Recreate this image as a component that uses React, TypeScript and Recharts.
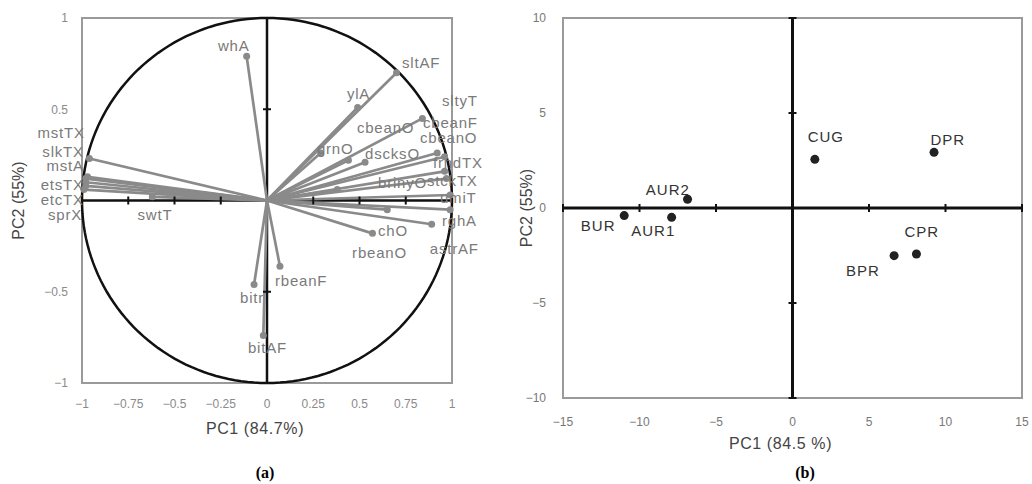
import React from "react"
import {
  Label,
  ReferenceArea,
  ReferenceLine,
  Scatter,
  ScatterChart,
  XAxis,
  YAxis
} from "recharts"

// (a) loading vectors
const loadings = [
  { name: "whA", x: -0.11, y: 0.79 },
  { name: "sltAF", x: 0.7, y: 0.7 },
  { name: "ylA", x: 0.49, y: 0.51 },
  { name: "grnO", x: 0.29, y: 0.26 },
  { name: "cbeanO", x: 0.44, y: 0.22 },
  { name: "dscksO", x: 0.53, y: 0.21 },
  { name: "cbeanF", x: 0.84, y: 0.45 },
  { name: "cbeanO2", x: 0.92, y: 0.26 },
  { name: "frndTX", x: 0.96, y: 0.24 },
  { name: "stckTX", x: 0.96, y: 0.16 },
  { name: "sltyT", x: 0.97, y: 0.12 },
  { name: "brinyO", x: 0.38, y: 0.06 },
  { name: "umiT", x: 0.99, y: 0.03 },
  { name: "astrAF", x: 0.99, y: -0.05 },
  { name: "rbeanO", x: 0.65, y: -0.05 },
  { name: "rghA", x: 0.89, y: -0.13 },
  { name: "chO", x: 0.57, y: -0.18 },
  { name: "rbeanF", x: 0.07, y: -0.36 },
  { name: "bitr", x: -0.07, y: -0.46 },
  { name: "bitAF", x: -0.02, y: -0.74 },
  { name: "swtT", x: -0.62, y: 0.02 },
  { name: "mstTX", x: -0.96, y: 0.23 },
  { name: "slkTX", x: -0.97, y: 0.13 },
  { name: "mstA", x: -0.98, y: 0.12 },
  { name: "etsTX", x: -0.98, y: 0.1 },
  { name: "etcTX", x: -0.98, y: 0.08 },
  { name: "sprX", x: -0.99, y: 0.06 }
]

// where each variable name sits on panel (a)
const loadingLabels = [
  { name: "whA", x: -0.265, y: 0.85 },
  { name: "sltAF", x: 0.73, y: 0.756 },
  { name: "ylA", x: 0.432, y: 0.586 },
  { name: "sltyT", x: 0.946, y: 0.548 },
  { name: "cbeanO", x: 0.486, y: 0.4 },
  { name: "cbeanF", x: 0.843, y: 0.43 },
  { name: "cbeanO", x: 0.827, y: 0.347 },
  { name: "grnO", x: 0.27, y: 0.285 },
  { name: "dscksO", x: 0.53, y: 0.258 },
  { name: "frndTX", x: 0.897, y: 0.208 },
  { name: "brinyO", x: 0.6, y: 0.1 },
  { name: "stckTX", x: 0.865, y: 0.11 },
  { name: "umiT", x: 0.935, y: 0.017 },
  { name: "rghA", x: 0.946, y: -0.11 },
  { name: "chO", x: 0.6, y: -0.164 },
  { name: "rbeanO", x: 0.46, y: -0.285 },
  { name: "astrAF", x: 0.88, y: -0.265 },
  { name: "rbeanF", x: 0.043, y: -0.44 },
  { name: "bitr", x: -0.146, y: -0.53 },
  { name: "bitAF", x: -0.103, y: -0.805 },
  { name: "swtT", x: -0.7, y: -0.077 },
  { name: "mstTX", x: -0.985, y: 0.37 },
  { name: "slkTX", x: -0.99, y: 0.27 },
  { name: "mstA", x: -0.99, y: 0.19 },
  { name: "etsTX", x: -0.99, y: 0.09 },
  { name: "etcTX", x: -0.99, y: 0.005 },
  { name: "sprX", x: -1, y: -0.077 }
]

const aTicksX = [-1, -0.75, -0.5, -0.25, 0, 0.25, 0.5, 0.75, 1]
const aTicksY = [-1, -0.5, 0.5, 1]
const aMarksX = [-0.75, -0.5, -0.25, 0.25, 0.5, 0.75]
const aMarksY = [-0.5, 0.5]

// (b) sample scores
const scores = [
  { name: "AUR2", x: -6.86, y: 0.46 },
  { name: "BUR", x: -11.0, y: -0.4 },
  { name: "AUR1", x: -7.9, y: -0.49 },
  { name: "CUG", x: 1.46, y: 2.56 },
  { name: "DPR", x: 9.25, y: 2.93 },
  { name: "BPR", x: 6.64, y: -2.51 },
  { name: "CPR", x: 8.1, y: -2.42 }
]

const scoreLabels = [
  { name: "AUR2", x: -8.15, y: 1.0 },
  { name: "BUR", x: -12.7, y: -0.9 },
  { name: "AUR1", x: -9.1, y: -1.16 },
  { name: "CUG", x: 2.18, y: 3.74 },
  { name: "DPR", x: 10.15, y: 3.63 },
  { name: "CPR", x: 8.45, y: -1.26 },
  { name: "BPR", x: 4.6, y: -3.3 }
]

const bTicksX = [-15, -10, -5, 0, 5, 10, 15]
const bTicksY = [-10, -5, 0, 5, 10]
const bMarksX = [-15, -10, -5, 5, 10, 15]
const bMarksY = [-10, -5, 5, 10]

// unit circle for the correlation plot
const unitCircle = Array.from({ length: 181 }, (_, i) => {
  const t = (i / 180) * 2 * Math.PI
  return { x: Math.cos(t), y: Math.sin(t) }
})

const FONT = "'Liberation Sans', Arial, sans-serif"
const GREY = "#8a8a8a"

const minus = (v: number) => String(v).replace("-", "\u2212")

const hMark = (props: any) => (
  <line x1={props.cx} y1={props.cy - 4} x2={props.cx} y2={props.cy + 4} stroke="#111" strokeWidth={2} />
)
const vMark = (props: any) => (
  <line x1={props.cx - 4} y1={props.cy} x2={props.cx + 4} y2={props.cy} stroke="#111" strokeWidth={2} />
)
const noDot = () => <g />

const xTitle = (text: string, below: number) => (props: any) => {
  const vb = props.viewBox
  return (
    <text
      x={vb.x + vb.width / 2 - 12}
      y={vb.y + below}
      textAnchor="middle"
      dominantBaseline="central"
      fontFamily={FONT}
      fontSize={16}
      letterSpacing={0.6}
      fill="#444"
    >
      {text}
    </text>
  )
}

const yTitle = (text: string, at: number) => (props: any) => {
  const vb = props.viewBox
  const x = vb.x + at
  const y = vb.y + vb.height / 2
  return (
    <text
      x={x}
      y={y}
      transform={`rotate(-90, ${x}, ${y})`}
      textAnchor="middle"
      dominantBaseline="central"
      fontFamily={FONT}
      fontSize={16}
      fill="#444"
    >
      {text}
    </text>
  )
}

function LoadingPlot() {
  const tick = { fill: "#8a8a8a", fontSize: 12, fontFamily: FONT }
  return (
    <ScatterChart width={490} height={440} margin={{ top: 18, right: 38, bottom: 0, left: 0 }}>
      <XAxis
        type="number"
        dataKey="x"
        domain={[-1, 1]}
        ticks={aTicksX}
        tickFormatter={minus}
        axisLine={false}
        tickLine={false}
        tickSize={6}
        tickMargin={10}
        height={57}
        tick={tick}
      >
        <Label content={xTitle("PC1 (84.7%)", 45)} />
      </XAxis>
      <YAxis
        type="number"
        dataKey="y"
        domain={[-1, 1]}
        ticks={aTicksY}
        tickFormatter={minus}
        axisLine={false}
        tickLine={false}
        tickSize={6}
        tickMargin={8}
        width={82}
        tick={tick}
      >
        <Label content={yTitle("PC2 (55%)", 18)} />
      </YAxis>
      <ReferenceArea x1={-1} x2={1} y1={-1} y2={1} fill="none" stroke="#9a9a9a" strokeWidth={2} />
      <ReferenceLine x={0} stroke="#111" strokeWidth={2.5} />
      <ReferenceLine y={0} stroke="#111" strokeWidth={2.5} />
      <Scatter data={unitCircle} line={{ stroke: "#111", strokeWidth: 2.5 }} shape={noDot} isAnimationActive={false} />
      <Scatter data={aMarksX.map((x) => ({ x, y: 0 }))} shape={hMark} isAnimationActive={false} />
      <Scatter data={aMarksY.map((y) => ({ x: 0, y }))} shape={vMark} isAnimationActive={false} />
      {loadings.map((d) => (
        <ReferenceLine
          key={d.name}
          segment={[{ x: 0, y: 0 }, { x: d.x, y: d.y }]}
          stroke={GREY}
          strokeWidth={2.7}
        />
      ))}
      <Scatter
        data={loadings}
        shape={(p: any) => <circle cx={p.cx} cy={p.cy} r={3.5} fill={GREY} />}
        isAnimationActive={false}
      />
      <Scatter
        data={loadingLabels}
        shape={(p: any) => (
          <text
            x={p.cx}
            y={p.cy}
            textAnchor={p.payload.x < -0.9 ? "end" : "start"}
            dominantBaseline="central"
            fontFamily={FONT}
            fontSize={15}
            letterSpacing={0.8}
            fill="#7a7a7a"
          >
            {p.payload.name}
          </text>
        )}
        isAnimationActive={false}
      />
    </ScatterChart>
  )
}

function ScorePlot() {
  const tick = { fill: "#777", fontSize: 12, fontFamily: FONT }
  return (
    <ScatterChart width={542} height={460} margin={{ top: 18, right: 10, bottom: 0, left: 0 }}>
      <XAxis
        type="number"
        dataKey="x"
        domain={[-15, 15]}
        ticks={bTicksX}
        tickFormatter={minus}
        axisLine={false}
        tickLine={false}
        tickSize={6}
        tickMargin={13}
        height={62}
        tick={tick}
      >
        <Label content={xTitle("PC1 (84.5 %)", 45)} />
      </XAxis>
      <YAxis
        type="number"
        dataKey="y"
        domain={[-10, 10]}
        ticks={bTicksY}
        tickFormatter={minus}
        axisLine={false}
        tickLine={false}
        tickSize={6}
        tickMargin={11}
        width={73}
        tick={tick}
      >
        <Label content={yTitle("PC2 (55%)", 36)} />
      </YAxis>
      <ReferenceArea x1={-15} x2={15} y1={-10} y2={10} fill="none" stroke="#9a9a9a" strokeWidth={2} />
      <ReferenceLine x={0} stroke="#111" strokeWidth={3} />
      <ReferenceLine y={0} stroke="#111" strokeWidth={3} />
      <Scatter data={bMarksX.map((x) => ({ x, y: 0 }))} shape={hMark} isAnimationActive={false} />
      <Scatter data={bMarksY.map((y) => ({ x: 0, y }))} shape={vMark} isAnimationActive={false} />
      <Scatter
        data={scores}
        shape={(p: any) => <circle cx={p.cx} cy={p.cy} r={4.5} fill="#222" />}
        isAnimationActive={false}
      />
      <Scatter
        data={scoreLabels}
        shape={(p: any) => (
          <text
            x={p.cx}
            y={p.cy}
            textAnchor="middle"
            dominantBaseline="central"
            fontFamily={FONT}
            fontSize={15}
            letterSpacing={1}
            fill="#333"
          >
            {p.payload.name}
          </text>
        )}
        isAnimationActive={false}
      />
    </ScatterChart>
  )
}

const caption: React.CSSProperties = {
  position: "absolute",
  top: 464,
  width: 40,
  textAlign: "center",
  fontFamily: "'Liberation Serif', 'Times New Roman', serif",
  fontWeight: "bold",
  fontSize: 16
}

export default function App() {
  return (
    <div style={{ position: "absolute", left: 0, top: 0, width: 1032, height: 484, background: "#fff", overflow: "hidden" }}>
      <div style={{ position: "absolute", left: 0, top: 0 }}>
        <LoadingPlot />
      </div>
      <div style={{ position: "absolute", left: 490, top: 0 }}>
        <ScorePlot />
      </div>
      <div style={{ ...caption, left: 245 }}>(a)</div>
      <div style={{ ...caption, left: 785 }}>(b)</div>
    </div>
  )
}
